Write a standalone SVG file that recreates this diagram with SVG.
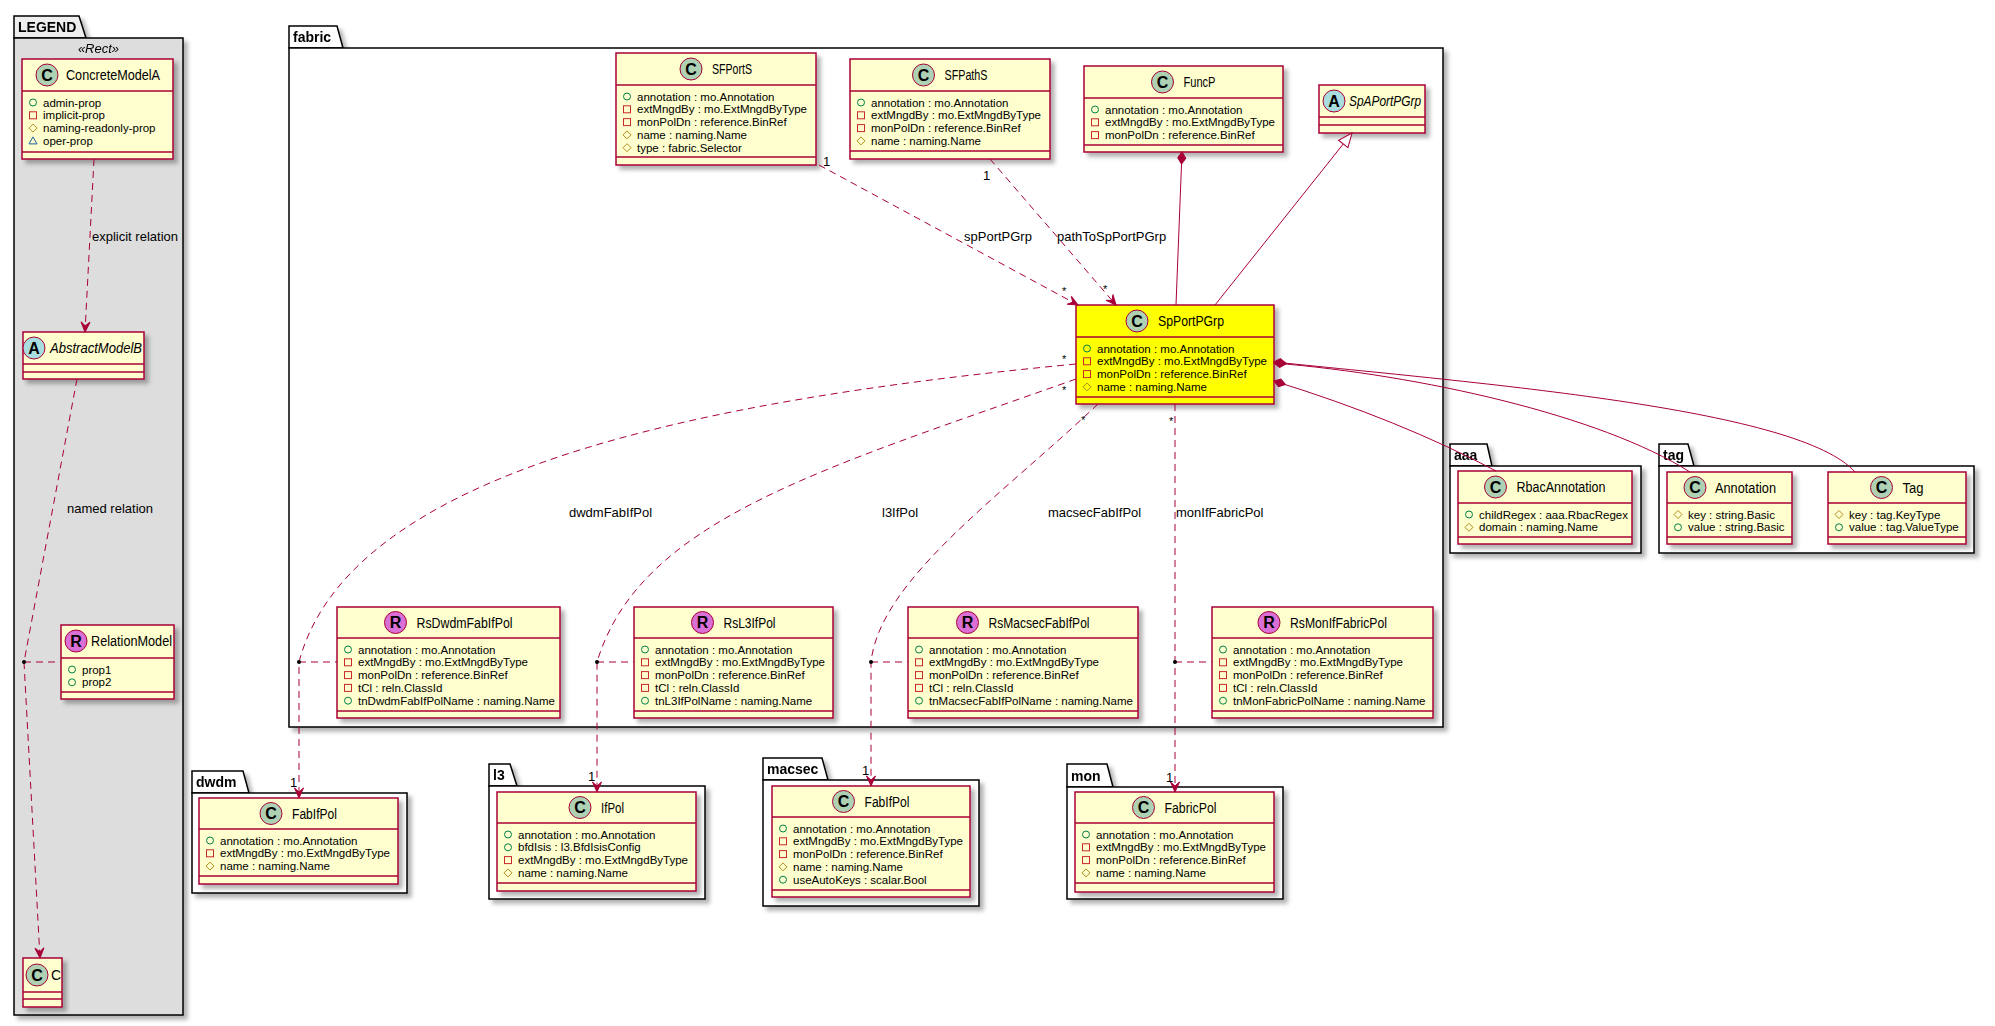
<svg xmlns="http://www.w3.org/2000/svg" xmlns:xlink="http://www.w3.org/1999/xlink" width="1995" height="1026" viewBox="0 0 1995 1026">
<style>
text{font-family:"Liberation Sans",Arial,sans-serif;fill:#000}
.box{fill:#FEFECE;stroke:#A80036;stroke-width:1.5}
.yel{fill:#FFFF00}
.sep{stroke:#A80036;stroke-width:1.5}
.spC{fill:#ADD1B2;stroke:#A80036;stroke-width:1}
.spA{fill:#A9DCDF;stroke:#A80036;stroke-width:1}
.spR{fill:#DA70D6;stroke:#A80036;stroke-width:1}
.ltr{font-weight:bold;font-size:16px;text-anchor:middle}
.nm{font-size:14px}
.it{font-style:italic}
.at{font-size:11.5px}
.pkg{fill:#FFFFFF;stroke:#000;stroke-width:1.5}
.pl{font-weight:bold;font-size:14px}
.e{fill:none;stroke:#A80036;stroke-width:1}
.d{stroke-dasharray:7,5}
.lbl{font-size:13px}
.m1{font-size:13px}
.ms{font-size:11px}
</style>
<defs>
<filter id="sh" x="-10%" y="-10%" width="130%" height="140%">
<feDropShadow dx="4" dy="4" stdDeviation="2" flood-color="#000" flood-opacity="0.3"/>
</filter>
<g id="ipub"><circle r="3.5" fill="none" stroke="#038048" stroke-width="1"/></g>
<g id="ipri"><rect x="-3.5" y="-3.5" width="7" height="7" fill="none" stroke="#C82930" stroke-width="1"/></g>
<g id="ipro"><path d="M0,-4 L4,0 L0,4 L-4,0 Z" fill="none" stroke="#B38D22" stroke-width="1"/></g>
<g id="ipkg"><path d="M0,-4 L4,3 L-4,3 Z" fill="none" stroke="#1963A0" stroke-width="1"/></g>
<marker id="arr" viewBox="-11 -6 12 12" refX="0" refY="0" markerWidth="12" markerHeight="12" markerUnits="userSpaceOnUse" orient="auto"><path d="M0,0 L-10,-4.5 L-6,0 L-10,4.5 Z" fill="#A80036" stroke="#A80036" stroke-width="1"/></marker>
<marker id="dia" viewBox="-1 -6 15 12" refX="0" refY="0" markerWidth="15" markerHeight="12" markerUnits="userSpaceOnUse" orient="auto"><path d="M0,0 L6,-4 L12,0 L6,4 Z" fill="#A80036" stroke="#A80036" stroke-width="1"/></marker>
<marker id="tri" viewBox="-16 -8 17 16" refX="0" refY="0" markerWidth="17" markerHeight="16" markerUnits="userSpaceOnUse" orient="auto"><path d="M0,0 L-14,-6 L-14,6 Z" fill="#FFFFFF" stroke="#A80036" stroke-width="1"/></marker>
</defs>
<rect x="0" y="0" width="1995" height="1026" fill="#FFFFFF"/>

<!-- packages -->
<g id="pkg-legend" filter="url(#sh)">
<path d="M14,38 L14,16 L79,16 L86,38 Z" fill="#EEEEEE" stroke="#000" stroke-width="1.5"/>
<rect x="14" y="38" width="169" height="977" fill="#DDDDDD" stroke="#000" stroke-width="1.5"/>
<text class="pl" x="18" y="32">LEGEND</text>
<text class="lbl it" x="98.5" y="53" text-anchor="middle">«Rect»</text>
</g>
<g id="pkg-fabric" filter="url(#sh)">
<path class="pkg" d="M289,48 L289,26 L337,26 L343,48 Z"/>
<rect class="pkg" x="289" y="48" width="1154" height="679"/>
<text class="pl" x="293" y="42">fabric</text>
</g>
<g id="pkg-dwdm" filter="url(#sh)">
<path class="pkg" d="M192,793 L192,771 L243,771 L249,793 Z"/>
<rect class="pkg" x="192" y="793" width="215" height="100"/>
<text class="pl" x="196" y="787">dwdm</text>
</g>
<g id="pkg-l3" filter="url(#sh)">
<path class="pkg" d="M489,786 L489,764 L510,764 L517,786 Z"/>
<rect class="pkg" x="489" y="786" width="216" height="113"/>
<text class="pl" x="493" y="780">l3</text>
</g>
<g id="pkg-macsec" filter="url(#sh)">
<path class="pkg" d="M763,780 L763,758 L822,758 L828,780 Z"/>
<rect class="pkg" x="763" y="780" width="216" height="126"/>
<text class="pl" x="767" y="774">macsec</text>
</g>
<g id="pkg-mon" filter="url(#sh)">
<path class="pkg" d="M1067,787 L1067,764 L1107,764 L1113,787 Z"/>
<rect class="pkg" x="1067" y="787" width="216" height="112"/>
<text class="pl" x="1071" y="781">mon</text>
</g>
<g id="pkg-aaa" filter="url(#sh)">
<path class="pkg" d="M1450,466 L1450,444 L1487,444 L1492,466 Z"/>
<rect class="pkg" x="1450" y="466" width="191" height="87"/>
<text class="pl" x="1454" y="460">aaa</text>
</g>
<g id="pkg-tag" filter="url(#sh)">
<path class="pkg" d="M1659,466 L1659,444 L1688,444 L1694,466 Z"/>
<rect class="pkg" x="1659" y="466" width="315" height="87"/>
<text class="pl" x="1663" y="460">tag</text>
</g>

<!-- legend nodes -->
<g id="ConcreteModelA">
<rect class="box" x="22" y="59" width="151" height="100" filter="url(#sh)"/>
<line class="sep" x1="22" y1="91" x2="173" y2="91"/>
<line class="sep" x1="22" y1="152" x2="173" y2="152"/>
<circle class="spC" cx="47" cy="75" r="11"/><text class="ltr" x="47" y="80.5">C</text>
<text class="nm" x="66" y="80" textLength="94" lengthAdjust="spacingAndGlyphs">ConcreteModelA</text>
<use href="#ipub" x="33" y="102.5"/><text class="at" x="43" y="106.5">admin-prop</text>
<use href="#ipri" x="33" y="115.3"/><text class="at" x="43" y="119.3">implicit-prop</text>
<use href="#ipro" x="33" y="128.1"/><text class="at" x="43" y="132.1">naming-readonly-prop</text>
<use href="#ipkg" x="33" y="140.9"/><text class="at" x="43" y="144.9">oper-prop</text>
</g>
<g id="AbstractModelB">
<rect class="box" x="23" y="332" width="121" height="47" filter="url(#sh)"/>
<line class="sep" x1="23" y1="364" x2="144" y2="364"/>
<line class="sep" x1="23" y1="372" x2="144" y2="372"/>
<circle class="spA" cx="34" cy="348" r="11"/><text class="ltr" x="34" y="353.5">A</text>
<text class="nm it" x="50" y="353" textLength="92" lengthAdjust="spacingAndGlyphs">AbstractModelB</text>
</g>
<g id="RelationModel">
<rect class="box" x="61" y="625" width="113" height="74" filter="url(#sh)"/>
<line class="sep" x1="61" y1="658" x2="174" y2="658"/>
<line class="sep" x1="61" y1="692" x2="174" y2="692"/>
<circle class="spR" cx="76" cy="641" r="11"/><text class="ltr" x="76" y="646.5">R</text>
<text class="nm" x="91" y="646" textLength="81" lengthAdjust="spacingAndGlyphs">RelationModel</text>
<use href="#ipub" x="72" y="669.5"/><text class="at" x="82" y="673.5">prop1</text>
<use href="#ipub" x="72" y="682.3"/><text class="at" x="82" y="686.3">prop2</text>
</g>
<g id="C">
<rect class="box" x="23" y="958" width="39" height="49" filter="url(#sh)"/>
<line class="sep" x1="23" y1="992" x2="62" y2="992"/>
<line class="sep" x1="23" y1="999" x2="62" y2="999"/>
<circle class="spC" cx="37" cy="975" r="11"/><text class="ltr" x="37" y="980.5">C</text>
<text class="nm" x="51" y="980">C</text>
</g>

<!-- fabric nodes -->
<g id="SFPortS">
<rect class="box" x="616" y="53" width="200" height="112" filter="url(#sh)"/>
<line class="sep" x1="616" y1="85" x2="816" y2="85"/>
<line class="sep" x1="616" y1="157" x2="816" y2="157"/>
<circle class="spC" cx="691" cy="69" r="11"/><text class="ltr" x="691" y="74.5">C</text>
<text class="nm" x="712" y="74" textLength="40" lengthAdjust="spacingAndGlyphs">SFPortS</text>
<use href="#ipub" x="627" y="96.5"/><text class="at" x="637" y="100.5">annotation : mo.Annotation</text>
<use href="#ipri" x="627" y="109.3"/><text class="at" x="637" y="113.3">extMngdBy : mo.ExtMngdByType</text>
<use href="#ipri" x="627" y="122.1"/><text class="at" x="637" y="126.1">monPolDn : reference.BinRef</text>
<use href="#ipro" x="627" y="134.9"/><text class="at" x="637" y="138.9">name : naming.Name</text>
<use href="#ipro" x="627" y="147.7"/><text class="at" x="637" y="151.7">type : fabric.Selector</text>
</g>
<g id="SFPathS">
<rect class="box" x="850" y="59" width="200" height="100" filter="url(#sh)"/>
<line class="sep" x1="850" y1="91" x2="1050" y2="91"/>
<line class="sep" x1="850" y1="151" x2="1050" y2="151"/>
<circle class="spC" cx="923.5" cy="75" r="11"/><text class="ltr" x="923.5" y="80.5">C</text>
<text class="nm" x="944.5" y="80" textLength="43" lengthAdjust="spacingAndGlyphs">SFPathS</text>
<use href="#ipub" x="861" y="102.5"/><text class="at" x="871" y="106.5">annotation : mo.Annotation</text>
<use href="#ipri" x="861" y="115.3"/><text class="at" x="871" y="119.3">extMngdBy : mo.ExtMngdByType</text>
<use href="#ipri" x="861" y="128.1"/><text class="at" x="871" y="132.1">monPolDn : reference.BinRef</text>
<use href="#ipro" x="861" y="140.9"/><text class="at" x="871" y="144.9">name : naming.Name</text>
</g>
<g id="FuncP">
<rect class="box" x="1084" y="66" width="199" height="86" filter="url(#sh)"/>
<line class="sep" x1="1084" y1="98" x2="1283" y2="98"/>
<line class="sep" x1="1084" y1="145" x2="1283" y2="145"/>
<circle class="spC" cx="1162.5" cy="82" r="11"/><text class="ltr" x="1162.5" y="87.5">C</text>
<text class="nm" x="1183.5" y="87" textLength="32" lengthAdjust="spacingAndGlyphs">FuncP</text>
<use href="#ipub" x="1095" y="109.5"/><text class="at" x="1105" y="113.5">annotation : mo.Annotation</text>
<use href="#ipri" x="1095" y="122.3"/><text class="at" x="1105" y="126.3">extMngdBy : mo.ExtMngdByType</text>
<use href="#ipri" x="1095" y="135.1"/><text class="at" x="1105" y="139.1">monPolDn : reference.BinRef</text>
</g>
<g id="SpAPortPGrp">
<rect class="box" x="1319" y="85" width="106" height="48" filter="url(#sh)"/>
<line class="sep" x1="1319" y1="117" x2="1425" y2="117"/>
<line class="sep" x1="1319" y1="125" x2="1425" y2="125"/>
<circle class="spA" cx="1334" cy="101" r="11"/><text class="ltr" x="1334" y="106.5">A</text>
<text class="nm it" x="1349" y="106" textLength="72" lengthAdjust="spacingAndGlyphs">SpAPortPGrp</text>
</g>
<g id="SpPortPGrp">
<rect class="box yel" x="1076" y="305" width="198" height="99" filter="url(#sh)"/>
<line class="sep" x1="1076" y1="337" x2="1274" y2="337"/>
<line class="sep" x1="1076" y1="397" x2="1274" y2="397"/>
<circle class="spC" cx="1137" cy="321" r="11"/><text class="ltr" x="1137" y="326.5">C</text>
<text class="nm" x="1158" y="326" textLength="66" lengthAdjust="spacingAndGlyphs">SpPortPGrp</text>
<use href="#ipub" x="1087" y="348.5"/><text class="at" x="1097" y="352.5">annotation : mo.Annotation</text>
<use href="#ipri" x="1087" y="361.3"/><text class="at" x="1097" y="365.3">extMngdBy : mo.ExtMngdByType</text>
<use href="#ipri" x="1087" y="374.1"/><text class="at" x="1097" y="378.1">monPolDn : reference.BinRef</text>
<use href="#ipro" x="1087" y="386.9"/><text class="at" x="1097" y="390.9">name : naming.Name</text>
</g>
<g id="RsDwdmFabIfPol">
<rect class="box" x="337" y="607" width="223" height="111" filter="url(#sh)"/>
<line class="sep" x1="337" y1="638" x2="560" y2="638"/>
<line class="sep" x1="337" y1="711" x2="560" y2="711"/>
<circle class="spR" cx="395.5" cy="622.5" r="11"/><text class="ltr" x="395.5" y="628">R</text>
<text class="nm" x="416.5" y="627.5" textLength="96" lengthAdjust="spacingAndGlyphs">RsDwdmFabIfPol</text>
<use href="#ipub" x="348" y="649.5"/><text class="at" x="358" y="653.5">annotation : mo.Annotation</text>
<use href="#ipri" x="348" y="662.3"/><text class="at" x="358" y="666.3">extMngdBy : mo.ExtMngdByType</text>
<use href="#ipri" x="348" y="675.1"/><text class="at" x="358" y="679.1">monPolDn : reference.BinRef</text>
<use href="#ipri" x="348" y="687.9"/><text class="at" x="358" y="691.9">tCl : reln.ClassId</text>
<use href="#ipub" x="348" y="700.7"/><text class="at" x="358" y="704.7">tnDwdmFabIfPolName : naming.Name</text>
</g>
<g id="RsL3IfPol">
<rect class="box" x="634" y="607" width="199" height="111" filter="url(#sh)"/>
<line class="sep" x1="634" y1="638" x2="833" y2="638"/>
<line class="sep" x1="634" y1="711" x2="833" y2="711"/>
<circle class="spR" cx="702.5" cy="622.5" r="11"/><text class="ltr" x="702.5" y="628">R</text>
<text class="nm" x="723.5" y="627.5" textLength="52" lengthAdjust="spacingAndGlyphs">RsL3IfPol</text>
<use href="#ipub" x="645" y="649.5"/><text class="at" x="655" y="653.5">annotation : mo.Annotation</text>
<use href="#ipri" x="645" y="662.3"/><text class="at" x="655" y="666.3">extMngdBy : mo.ExtMngdByType</text>
<use href="#ipri" x="645" y="675.1"/><text class="at" x="655" y="679.1">monPolDn : reference.BinRef</text>
<use href="#ipri" x="645" y="687.9"/><text class="at" x="655" y="691.9">tCl : reln.ClassId</text>
<use href="#ipub" x="645" y="700.7"/><text class="at" x="655" y="704.7">tnL3IfPolName : naming.Name</text>
</g>
<g id="RsMacsecFabIfPol">
<rect class="box" x="908" y="607" width="230" height="111" filter="url(#sh)"/>
<line class="sep" x1="908" y1="638" x2="1138" y2="638"/>
<line class="sep" x1="908" y1="711" x2="1138" y2="711"/>
<circle class="spR" cx="967.5" cy="622.5" r="11"/><text class="ltr" x="967.5" y="628">R</text>
<text class="nm" x="988.5" y="627.5" textLength="101" lengthAdjust="spacingAndGlyphs">RsMacsecFabIfPol</text>
<use href="#ipub" x="919" y="649.5"/><text class="at" x="929" y="653.5">annotation : mo.Annotation</text>
<use href="#ipri" x="919" y="662.3"/><text class="at" x="929" y="666.3">extMngdBy : mo.ExtMngdByType</text>
<use href="#ipri" x="919" y="675.1"/><text class="at" x="929" y="679.1">monPolDn : reference.BinRef</text>
<use href="#ipri" x="919" y="687.9"/><text class="at" x="929" y="691.9">tCl : reln.ClassId</text>
<use href="#ipub" x="919" y="700.7"/><text class="at" x="929" y="704.7">tnMacsecFabIfPolName : naming.Name</text>
</g>
<g id="RsMonIfFabricPol">
<rect class="box" x="1212" y="607" width="221" height="111" filter="url(#sh)"/>
<line class="sep" x1="1212" y1="638" x2="1433" y2="638"/>
<line class="sep" x1="1212" y1="711" x2="1433" y2="711"/>
<circle class="spR" cx="1269" cy="622.5" r="11"/><text class="ltr" x="1269" y="628">R</text>
<text class="nm" x="1290" y="627.5" textLength="97" lengthAdjust="spacingAndGlyphs">RsMonIfFabricPol</text>
<use href="#ipub" x="1223" y="649.5"/><text class="at" x="1233" y="653.5">annotation : mo.Annotation</text>
<use href="#ipri" x="1223" y="662.3"/><text class="at" x="1233" y="666.3">extMngdBy : mo.ExtMngdByType</text>
<use href="#ipri" x="1223" y="675.1"/><text class="at" x="1233" y="679.1">monPolDn : reference.BinRef</text>
<use href="#ipri" x="1223" y="687.9"/><text class="at" x="1233" y="691.9">tCl : reln.ClassId</text>
<use href="#ipub" x="1223" y="700.7"/><text class="at" x="1233" y="704.7">tnMonFabricPolName : naming.Name</text>
</g>

<!-- other package nodes -->
<g id="dwdm-FabIfPol">
<rect class="box" x="199" y="798" width="199" height="86" filter="url(#sh)"/>
<line class="sep" x1="199" y1="829" x2="398" y2="829"/>
<line class="sep" x1="199" y1="876" x2="398" y2="876"/>
<circle class="spC" cx="271" cy="813.5" r="11"/><text class="ltr" x="271" y="819">C</text>
<text class="nm" x="292" y="818.5" textLength="45" lengthAdjust="spacingAndGlyphs">FabIfPol</text>
<use href="#ipub" x="210" y="840.5"/><text class="at" x="220" y="844.5">annotation : mo.Annotation</text>
<use href="#ipri" x="210" y="853.3"/><text class="at" x="220" y="857.3">extMngdBy : mo.ExtMngdByType</text>
<use href="#ipro" x="210" y="866.1"/><text class="at" x="220" y="870.1">name : naming.Name</text>
</g>
<g id="l3-IfPol">
<rect class="box" x="497" y="792" width="199" height="99" filter="url(#sh)"/>
<line class="sep" x1="497" y1="823" x2="696" y2="823"/>
<line class="sep" x1="497" y1="883" x2="696" y2="883"/>
<circle class="spC" cx="580" cy="807.5" r="11"/><text class="ltr" x="580" y="813">C</text>
<text class="nm" x="601" y="812.5" textLength="23" lengthAdjust="spacingAndGlyphs">IfPol</text>
<use href="#ipub" x="508" y="834.5"/><text class="at" x="518" y="838.5">annotation : mo.Annotation</text>
<use href="#ipub" x="508" y="847.3"/><text class="at" x="518" y="851.3">bfdIsis : l3.BfdIsisConfig</text>
<use href="#ipri" x="508" y="860.1"/><text class="at" x="518" y="864.1">extMngdBy : mo.ExtMngdByType</text>
<use href="#ipro" x="508" y="872.9"/><text class="at" x="518" y="876.9">name : naming.Name</text>
</g>
<g id="macsec-FabIfPol">
<rect class="box" x="772" y="786" width="198" height="111" filter="url(#sh)"/>
<line class="sep" x1="772" y1="817" x2="970" y2="817"/>
<line class="sep" x1="772" y1="890" x2="970" y2="890"/>
<circle class="spC" cx="843.5" cy="801.5" r="11"/><text class="ltr" x="843.5" y="807">C</text>
<text class="nm" x="864.5" y="806.5" textLength="45" lengthAdjust="spacingAndGlyphs">FabIfPol</text>
<use href="#ipub" x="783" y="828.5"/><text class="at" x="793" y="832.5">annotation : mo.Annotation</text>
<use href="#ipri" x="783" y="841.3"/><text class="at" x="793" y="845.3">extMngdBy : mo.ExtMngdByType</text>
<use href="#ipri" x="783" y="854.1"/><text class="at" x="793" y="858.1">monPolDn : reference.BinRef</text>
<use href="#ipro" x="783" y="866.9"/><text class="at" x="793" y="870.9">name : naming.Name</text>
<use href="#ipub" x="783" y="879.7"/><text class="at" x="793" y="883.7">useAutoKeys : scalar.Bool</text>
</g>
<g id="mon-FabricPol">
<rect class="box" x="1075" y="792" width="199" height="100" filter="url(#sh)"/>
<line class="sep" x1="1075" y1="823" x2="1274" y2="823"/>
<line class="sep" x1="1075" y1="883" x2="1274" y2="883"/>
<circle class="spC" cx="1143.5" cy="807.5" r="11"/><text class="ltr" x="1143.5" y="813">C</text>
<text class="nm" x="1164.5" y="812.5" textLength="52" lengthAdjust="spacingAndGlyphs">FabricPol</text>
<use href="#ipub" x="1086" y="834.5"/><text class="at" x="1096" y="838.5">annotation : mo.Annotation</text>
<use href="#ipri" x="1086" y="847.3"/><text class="at" x="1096" y="851.3">extMngdBy : mo.ExtMngdByType</text>
<use href="#ipri" x="1086" y="860.1"/><text class="at" x="1096" y="864.1">monPolDn : reference.BinRef</text>
<use href="#ipro" x="1086" y="872.9"/><text class="at" x="1096" y="876.9">name : naming.Name</text>
</g>
<g id="aaa-RbacAnnotation">
<rect class="box" x="1458" y="471" width="174" height="73" filter="url(#sh)"/>
<line class="sep" x1="1458" y1="503" x2="1632" y2="503"/>
<line class="sep" x1="1458" y1="537" x2="1632" y2="537"/>
<circle class="spC" cx="1495.5" cy="487" r="11"/><text class="ltr" x="1495.5" y="492.5">C</text>
<text class="nm" x="1516.5" y="492" textLength="89" lengthAdjust="spacingAndGlyphs">RbacAnnotation</text>
<use href="#ipub" x="1469" y="514.5"/><text class="at" x="1479" y="518.5">childRegex : aaa.RbacRegex</text>
<use href="#ipro" x="1469" y="527.3"/><text class="at" x="1479" y="531.3">domain : naming.Name</text>
</g>
<g id="tag-Annotation">
<rect class="box" x="1667" y="472" width="125" height="72" filter="url(#sh)"/>
<line class="sep" x1="1667" y1="503" x2="1792" y2="503"/>
<line class="sep" x1="1667" y1="537" x2="1792" y2="537"/>
<circle class="spC" cx="1695" cy="487.5" r="11"/><text class="ltr" x="1695" y="493">C</text>
<text class="nm" x="1715" y="492.5" textLength="61" lengthAdjust="spacingAndGlyphs">Annotation</text>
<use href="#ipro" x="1678" y="514.5"/><text class="at" x="1688" y="518.5">key : string.Basic</text>
<use href="#ipub" x="1678" y="527.3"/><text class="at" x="1688" y="531.3">value : string.Basic</text>
</g>
<g id="tag-Tag">
<rect class="box" x="1828" y="472" width="138" height="72" filter="url(#sh)"/>
<line class="sep" x1="1828" y1="503" x2="1966" y2="503"/>
<line class="sep" x1="1828" y1="537" x2="1966" y2="537"/>
<circle class="spC" cx="1881.5" cy="487.5" r="11"/><text class="ltr" x="1881.5" y="493">C</text>
<text class="nm" x="1902.5" y="492.5" textLength="21" lengthAdjust="spacingAndGlyphs">Tag</text>
<use href="#ipro" x="1839" y="514.5"/><text class="at" x="1849" y="518.5">key : tag.KeyType</text>
<use href="#ipub" x="1839" y="527.3"/><text class="at" x="1849" y="531.3">value : tag.ValueType</text>
</g>

<!-- connectors -->
<g id="connectors">
<path class="e d" d="M94,159 L85,332" marker-end="url(#arr)"/>
<text class="lbl" x="92" y="241">explicit relation</text>
<path class="e d" d="M77,379 L24,662 L40,958" marker-end="url(#arr)"/>
<path class="e d" d="M24,662 L61,662"/>
<circle cx="24" cy="662" r="2" fill="#000"/>
<text class="lbl" x="67" y="513">named relation</text>

<path class="e d" d="M819,165 L1078,305" marker-end="url(#arr)"/>
<text class="m1" x="823" y="166">1</text>
<text class="ms" x="1062" y="295">*</text>
<text class="lbl" x="964" y="241">spPortPGrp</text>

<path class="e d" d="M990,159 L1116,305" marker-end="url(#arr)"/>
<text class="m1" x="983" y="180">1</text>
<text class="ms" x="1103" y="293">*</text>
<text class="lbl" x="1057" y="241">pathToSpPortPGrp</text>

<path class="e" d="M1182,152 L1176,305" marker-start="url(#dia)"/>
<path class="e" d="M1215,305 L1352,133" marker-end="url(#tri)"/>

<path class="e" d="M1274,363 C1420,375 1600,415 1690,472" marker-start="url(#dia)"/>
<path class="e" d="M1274,362 C1500,385 1800,410 1855,472" marker-start="url(#dia)"/>
<path class="e" d="M1274,381 Q1400,420 1496,471" marker-start="url(#dia)"/>

<path class="e d" d="M1076,364 C700,400 350,470 299,662 L299,798" marker-end="url(#arr)"/>
<path class="e d" d="M299,662 L337,662"/>
<circle cx="299" cy="662" r="2" fill="#000"/>
<text class="ms" x="1062" y="363">*</text>
<text class="m1" x="290" y="787">1</text>
<text class="lbl" x="569" y="517">dwdmFabIfPol</text>

<path class="e d" d="M1076,379 C820,470 640,520 597,662 L597,792" marker-end="url(#arr)"/>
<path class="e d" d="M597,662 L634,662"/>
<circle cx="597" cy="662" r="2" fill="#000"/>
<text class="ms" x="1062" y="394">*</text>
<text class="m1" x="588" y="781">1</text>
<text class="lbl" x="882" y="517">l3IfPol</text>

<path class="e d" d="M1098,404 C1000,497 880,580 871,662 L871,786" marker-end="url(#arr)"/>
<path class="e d" d="M871,662 L908,662"/>
<circle cx="871" cy="662" r="2" fill="#000"/>
<text class="ms" x="1081" y="424">*</text>
<text class="m1" x="862" y="775">1</text>
<text class="lbl" x="1048" y="517">macsecFabIfPol</text>

<path class="e d" d="M1175,404 L1175,792" marker-end="url(#arr)"/>
<path class="e d" d="M1175,662 L1212,662"/>
<circle cx="1175" cy="662" r="2" fill="#000"/>
<text class="ms" x="1169" y="425">*</text>
<text class="m1" x="1166" y="782">1</text>
<text class="lbl" x="1176" y="517">monIfFabricPol</text>
</g>
</svg>
